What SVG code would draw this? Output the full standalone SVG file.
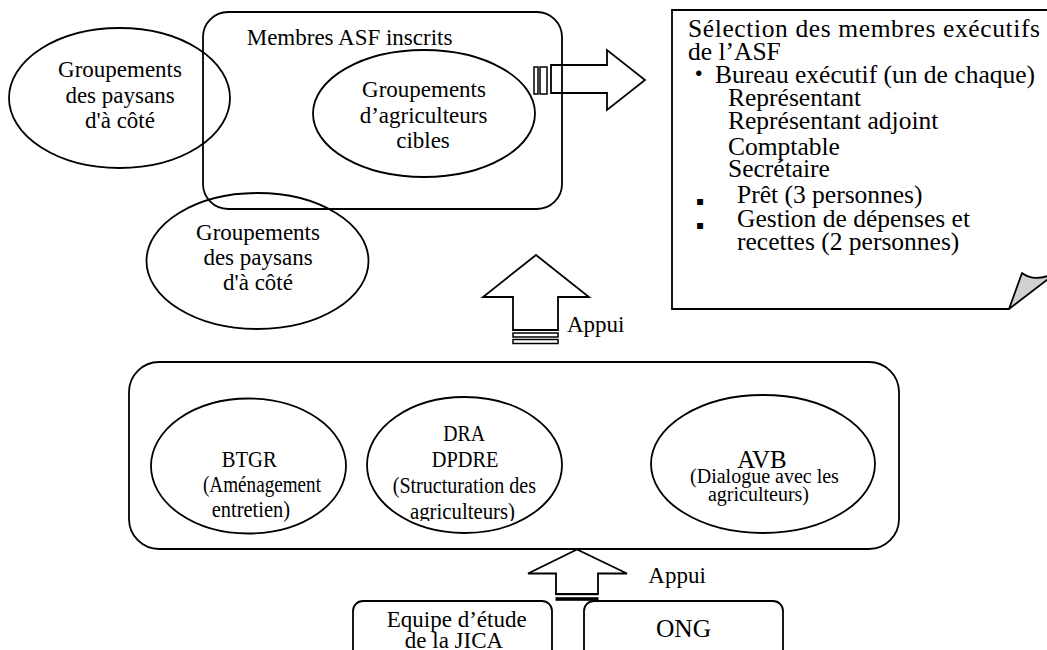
<svg xmlns="http://www.w3.org/2000/svg" width="1047" height="650" viewBox="0 0 1047 650">
  <style>
    .s{fill:none;stroke:#000;stroke-width:1.8}
    .w{fill:#fff;stroke:#000;stroke-width:1.8}
    .st{fill:#fff;stroke:#000;stroke-width:1.5}
    .serif{font-family:'Liberation Serif','Times New Roman',serif;fill:#000}
    .t23{font-size:23px}
    .t24{font-size:24px}
    .t25{font-size:25.5px}
    .c{text-anchor:middle}
    .dot{font-family:'Liberation Serif','Noto Sans CJK JP',sans-serif;font-size:25.5px}
    .sq{font-family:'DejaVu Sans',sans-serif;font-size:12px}
  </style>
  <defs>
    <clipPath id="clip-dra">
      <rect x="360" y="390" width="210" height="131"/>
    </clipPath>
  </defs>
  <rect width="1047" height="650" fill="#fff"/>

  <g class="serif" font-family="Liberation Serif, Times New Roman, serif">
  <!-- registered members -->
  <g id="members">
    <rect class="s" x="203" y="12" width="359" height="197" rx="25"/>
    <text class="t23" x="246.7" y="45">Membres ASF inscrits</text>
  </g>

  <g id="target-groups">
    <ellipse class="s" cx="424" cy="113.5" rx="111" ry="63.5"/>
    <text class="t23 c" x="424" y="97.3">Groupements</text>
    <text class="t23 c" x="423.5" y="123.3">d’agriculteurs</text>
    <text class="t23 c" x="423" y="148.3">cibles</text>
  </g>

  <g id="neighbours-1">
    <ellipse class="s" cx="119.5" cy="98" rx="110.5" ry="70"/>
    <text class="t23 c" x="120" y="77">Groupements</text>
    <text class="t23 c" x="120" y="102.5">des paysans</text>
    <text class="t23 c" x="120" y="128">d'à côté</text>
  </g>

  <g id="neighbours-2">
    <ellipse class="s" cx="257.5" cy="261" rx="111" ry="68"/>
    <text class="t23 c" x="258" y="240">Groupements</text>
    <text class="t23 c" x="258" y="265">des paysans</text>
    <text class="t23 c" x="258" y="290">d'à côté</text>
  </g>

  <!-- executive selection note -->
  <g id="executive-selection">
    <path class="s" d="M1048,10 H672 V309 H1009"/>
    <path d="M1009,309 L1022,273 Q1032,281 1048,276 L1048,279 Z" fill="#d0d0d0" stroke="#000" stroke-width="1.8" stroke-linejoin="round"/>
    <text class="t25" x="688" y="37" textLength="352" lengthAdjust="spacing">Sélection des membres exécutifs</text>
    <text class="t25" x="688" y="60">de l’ASF</text>
    <text class="dot" x="686" y="83">・</text>
    <text class="t25" x="715" y="83">Bureau exécutif (un de chaque)</text>
    <text class="t25" x="728" y="106">Représentant</text>
    <text class="t25" x="728" y="128.5">Représentant adjoint</text>
    <text class="t25" x="728" y="154.5">Comptable</text>
    <text class="t25" x="728" y="177">Secrétaire</text>
    <text class="sq" x="696" y="204.5">▪</text>
    <text class="t25" x="737" y="202.5">Prêt (3 personnes)</text>
    <text class="sq" x="696" y="228.5">▪</text>
    <text class="t25" x="737" y="227">Gestion de dépenses et</text>
    <text class="t25" x="737" y="249.5">recettes (2 personnes)</text>
  </g>

  <!-- support structures -->
  <g id="services">
    <rect class="s" x="129" y="362" width="770" height="187" rx="30"/>
  </g>

  <g id="btgr">
    <ellipse class="s" cx="248.5" cy="466" rx="97.5" ry="67.5"/>
    <text class="t24" x="221.7" y="467" textLength="55" lengthAdjust="spacingAndGlyphs">BTGR</text>
    <text class="t24" x="203" y="492" textLength="118" lengthAdjust="spacingAndGlyphs">(Aménagement</text>
    <text class="t24" x="211.7" y="517" textLength="78.3" lengthAdjust="spacingAndGlyphs">entretien)</text>
  </g>

  <g id="dra">
    <ellipse class="s" cx="464.5" cy="465" rx="97.5" ry="68"/>
    <text class="t24" x="443.3" y="441" textLength="41.7" lengthAdjust="spacingAndGlyphs">DRA</text>
    <text class="t24" x="431.7" y="467" textLength="66.7" lengthAdjust="spacingAndGlyphs">DPDRE</text>
    <text class="t24" x="392.7" y="493" textLength="143.3" lengthAdjust="spacingAndGlyphs">(Structuration des</text>
    <text class="t24" x="410" y="518.5" textLength="105" lengthAdjust="spacingAndGlyphs" clip-path="url(#clip-dra)">agriculteurs)</text>
  </g>

  <g id="avb">
    <ellipse class="s" cx="763" cy="464" rx="112" ry="69"/>
    <text class="c" x="762" y="468" font-size="25">AVB</text>
    <text class="c" x="764.5" y="483" font-size="20">(Dialogue avec les</text>
    <text class="c" x="758.5" y="500.7" font-size="20">agriculteurs)</text>
  </g>

  <g id="jica-team">
    <rect class="s" x="353" y="601" width="199" height="70" rx="10"/>
    <text class="t23 c" x="456.7" y="627.3">Equipe d’étude</text>
    <text class="t23 c" x="454" y="648">de la JICA</text>
  </g>

  <g id="ong">
    <rect class="s" x="584" y="601" width="199" height="70" rx="10"/>
    <text class="c" x="683.5" y="637.3" font-size="25.5">ONG</text>
  </g>

  <!-- arrows -->
  <g id="connectors">
    <path class="s" d="M551,65 H607 V50 L645,80 L607,110 V93 H551 Z"/>
    <rect class="st" x="534" y="67" width="4" height="27"/>
    <rect class="st" x="540" y="67" width="7" height="27"/>

    <path class="w" d="M513,330 V297 H483 L536,255 L589,297 H558 V330 Z"/>
    <rect class="st" x="513" y="333" width="45" height="4"/>
    <rect class="st" x="513" y="339.5" width="45" height="4"/>
    <text class="t23" x="567" y="332">Appui</text>

    <path class="w" d="M556,594 V573.5 H528 L577,549.5 L627,573.5 H598 V594 Z"/>
    <rect x="555.5" y="593" width="43" height="2.2" fill="#000"/>
    <rect x="555.5" y="597.2" width="43" height="3.6" fill="#000"/>
    <text class="t23" x="648.3" y="583.3">Appui</text>
  </g>
  </g>
</svg>
